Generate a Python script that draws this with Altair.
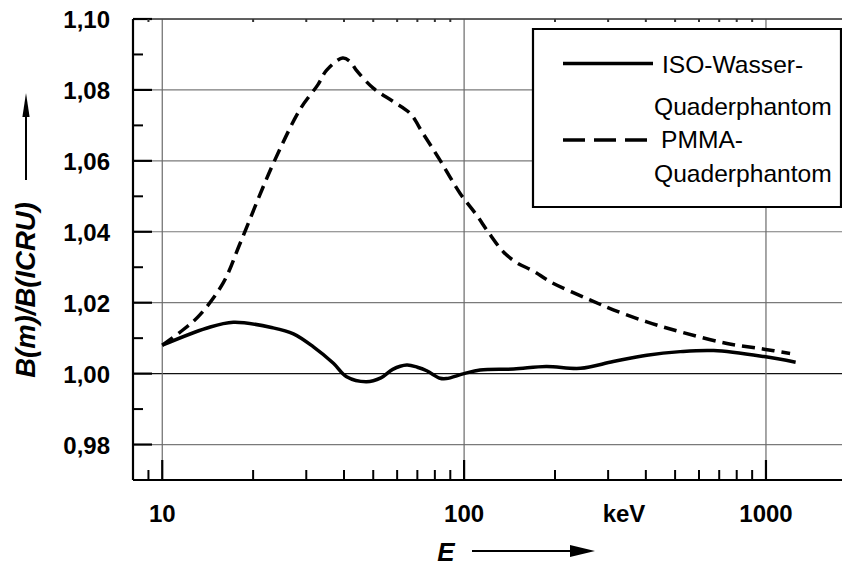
import altair as alt
import pandas as pd

# ---- data ----
iso_E = [10, 14, 17.2, 23.3, 27.2, 31.6, 36.9, 40.8, 47.5, 53, 58, 64.6, 70, 75.2,
         83.2, 87.3, 100, 113, 146, 187, 243, 312, 403, 520, 671, 985, 1254]
iso_v = [1.0080, 1.0128, 1.0145, 1.0129, 1.0112, 1.0076, 1.0029, 0.9991, 0.9977,
         0.9988, 1.0012, 1.0024, 1.0018, 1.0008, 0.9987, 0.9986, 1.0000, 1.0010,
         1.0013, 1.0020, 1.0015, 1.0034, 1.0052, 1.0062, 1.0065, 1.0048, 1.0032]
pmma_E = [10, 11.7, 13.3, 15.9, 18.1, 21.6, 23.6, 28.6, 32.8, 35, 39.6, 41.9, 44,
          50, 58.3, 66.2, 73, 83.2, 97, 110, 120, 135, 150, 170, 193, 261, 312,
          403, 520, 743, 985, 1202]
pmma_v = [1.008, 1.0123, 1.0165, 1.0255, 1.0367, 1.0527, 1.0602, 1.0745, 1.0815,
          1.0855, 1.089, 1.088, 1.0855, 1.0805, 1.0767, 1.0734, 1.0678, 1.0602,
          1.0508, 1.0447, 1.040, 1.0343, 1.0312, 1.0289, 1.0259, 1.0208, 1.018,
          1.0146, 1.0118, 1.0085, 1.0069, 1.0057]
y_major = [0.98, 1.00, 1.02, 1.04, 1.06, 1.08, 1.10]
y_minor = [0.99, 1.01, 1.03, 1.05, 1.07, 1.09]
x_major = [10, 100, 1000]
x_minor = [9, 20, 30, 40, 50, 60, 70, 80, 90, 200, 300, 400, 500, 600, 700, 800, 900]
legend_labels = ["ISO-Wasser-", "Quaderphantom", "PMMA-", "Quaderphantom"]
x_unit = "keV"
x_title = "E"
y_title = "B(m)/B(ICRU)"

W, H = 709, 461
FONT = "Liberation Sans"

xscale = alt.Scale(type="log", domain=[8, 1786], nice=False)
yscale = alt.Scale(domain=[0.97, 1.10], nice=False, zero=False)

iso_df = pd.DataFrame({"E": iso_E, "v": iso_v})
pmma_df = pd.DataFrame({"E": pmma_E, "v": pmma_v})
ymaj_df = pd.DataFrame({"v": y_major})
ymin_df = pd.DataFrame({"v": y_minor})
xmaj_df = pd.DataFrame({"E": x_major})
xmin_df = pd.DataFrame({"E": x_minor})
one = pd.DataFrame({"k": [0]})

X = lambda: alt.X("E:Q", scale=xscale, axis=None)
Y = lambda: alt.Y("v:Q", scale=yscale, axis=None)

# grid
hgrid = alt.Chart(ymaj_df).mark_rule(strokeWidth=1.2).encode(
    y=Y(), x=alt.value(0), x2=alt.value(W),
    color=alt.condition(alt.datum.v == 1.0, alt.value("#111111"), alt.value("#7a7a7a")),
)
vgrid = alt.Chart(xmaj_df).mark_rule(strokeWidth=1.2, color="#6a6a6a").encode(
    x=X(), y=alt.value(0), y2=alt.value(H),
)

# curves
iso_line = alt.Chart(iso_df).mark_line(color="black", strokeWidth=3.5,
                                       interpolate="catmull-rom").encode(x=X(), y=Y())
pmma_line = alt.Chart(pmma_df).mark_line(color="black", strokeWidth=3.5,
                                         strokeDash=[13, 7],
                                         interpolate="catmull-rom").encode(x=X(), y=Y())

# frame lines and ticks
left_line = alt.Chart(one).mark_rule(color="black", strokeWidth=2.2).encode(
    x=alt.value(0), y=alt.value(0), y2=alt.value(H))
bottom_line = alt.Chart(one).mark_rule(color="black", strokeWidth=2.2).encode(
    x=alt.value(0), x2=alt.value(W), y=alt.value(H))
top_line = alt.Chart(one).mark_rule(color="#444444", strokeWidth=1.6).encode(
    x=alt.value(0), x2=alt.value(W), y=alt.value(0))

ymaj_ticks = alt.Chart(ymaj_df).mark_rule(color="black", strokeWidth=2.2).encode(
    y=Y(), x=alt.value(0), x2=alt.value(19))
ymin_ticks = alt.Chart(ymin_df).mark_rule(color="black", strokeWidth=2).encode(
    y=Y(), x=alt.value(0), x2=alt.value(10))
xmaj_ticks = alt.Chart(xmaj_df).mark_rule(color="black", strokeWidth=2.2).encode(
    x=X(), y=alt.value(H), y2=alt.value(H - 20))
xmin_ticks = alt.Chart(xmin_df).mark_rule(color="black", strokeWidth=2).encode(
    x=X(), y=alt.value(H), y2=alt.value(H - 10))
top_ticks = alt.Chart(xmin_df).mark_rule(color="#333333", strokeWidth=2).encode(
    x=X(), y=alt.value(0), y2=alt.value(3))

# tick labels
ylabels = alt.Chart(ymaj_df).transform_calculate(
    lab="replace(format(datum.v, '.2f'), '.', ',')"
).mark_text(font=FONT, fontSize=24, fontWeight="bold", align="right",
            baseline="alphabetic", dy=9, color="black").encode(
    y=Y(), x=alt.value(-23), text="lab:N")
xlabels = alt.Chart(xmaj_df).transform_calculate(
    lab="format(datum.E, 'd')"
).mark_text(font=FONT, fontSize=24, fontWeight="bold", align="center",
            baseline="alphabetic", color="black").encode(
    x=X(), y=alt.value(503), text="lab:N")

# legend
leg_box = alt.Chart(one).mark_rect(fill="white", stroke="black", strokeWidth=2.2).encode(
    x=alt.value(400), x2=alt.value(708), y=alt.value(10), y2=alt.value(188))
leg_solid = alt.Chart(one).mark_rule(color="black", strokeWidth=3.5).encode(
    x=alt.value(430), x2=alt.value(520), y=alt.value(44.5))
leg_dash = alt.Chart(one).mark_rule(color="black", strokeWidth=3.5, strokeDash=[22, 9]).encode(
    x=alt.value(430), x2=alt.value(518), y=alt.value(121))


def txt(s, x, y, size, weight="normal", style="normal", align="left", angle=0):
    return alt.Chart(one).mark_text(
        text=s, font=FONT, fontSize=size, fontWeight=weight, fontStyle=style,
        align=align, baseline="alphabetic", angle=angle, color="black"
    ).encode(x=alt.value(x), y=alt.value(y))


leg_t1 = txt(legend_labels[0], 529, 54, 24.6)
leg_t2 = txt(legend_labels[1], 521, 96, 24.6)
leg_t3 = txt(legend_labels[2], 528, 129, 24.6)
leg_t4 = txt(legend_labels[3], 521, 163, 24.6)

kev = txt(x_unit, 491, 503, 24, weight="bold", align="center")
xt = txt(x_title, 313, 542, 26, weight="bold", style="italic", align="center")
yt = txt(y_title, -98, 271, 27.5, weight="bold", style="italic", align="center", angle=270)

# arrows
x_arrow_shaft = alt.Chart(one).mark_rule(color="black", strokeWidth=2).encode(
    x=alt.value(339), x2=alt.value(440), y=alt.value(532))
x_arrow_head = alt.Chart(one).mark_point(
    shape="M1,0L-1,0.48L-1,-0.48Z", filled=True, color="black", opacity=1, size=625
).encode(x=alt.value(449.5), y=alt.value(532))
y_arrow_shaft = alt.Chart(one).mark_rule(color="black", strokeWidth=2).encode(
    x=alt.value(-107), y=alt.value(161), y2=alt.value(94))
y_arrow_head = alt.Chart(one).mark_point(
    shape="M0,-1L0.3,1L-0.3,1Z", filled=True, color="black", opacity=1, size=576
).encode(x=alt.value(-107), y=alt.value(86))

chart = alt.layer(
    hgrid, vgrid, iso_line, pmma_line,
    leg_box, leg_solid, leg_dash, leg_t1, leg_t2, leg_t3, leg_t4,
    left_line, bottom_line, top_line,
    ymaj_ticks, ymin_ticks, xmaj_ticks, xmin_ticks, top_ticks,
    ylabels, xlabels,
    kev, xt, yt, x_arrow_shaft, x_arrow_head, y_arrow_shaft, y_arrow_head,
).properties(
    width=W, height=H,
    padding={"left": 125, "top": 11, "right": 0, "bottom": 90},
    autosize=alt.AutoSizeParams(type="none"),
).configure_view(stroke=None).configure(background="white")

chart.save("out.html", embed_options={"renderer": "svg", "actions": False})
